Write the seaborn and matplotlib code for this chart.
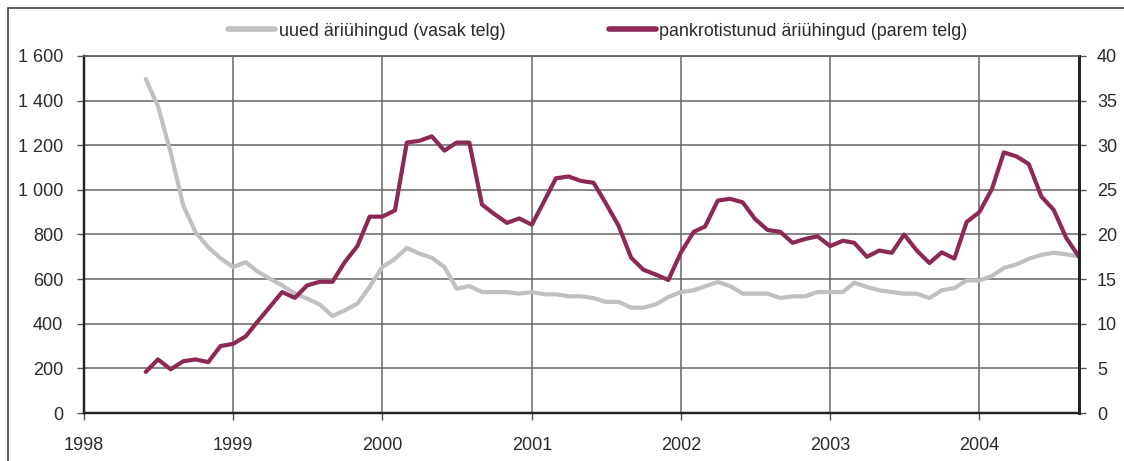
import matplotlib
matplotlib.use("Agg")
import matplotlib.pyplot as plt
from matplotlib.lines import Line2D
from matplotlib.patches import Rectangle
from matplotlib.ticker import FuncFormatter, MultipleLocator
import pandas as pd
import seaborn as sns

# ---- data ----
start_month = "1998-06-01"
new_companies = [1497, 1375, 1168, 930, 810, 743, 694, 654, 676, 635,
                 602, 572, 535, 513, 486, 435, 460, 490, 565, 654,
                 691, 740, 714, 696, 654, 557, 569, 542, 542, 542,
                 535, 542, 532, 532, 523, 523, 515, 498, 498, 472,
                 472, 487, 520, 542, 550, 568, 587, 569, 535, 535,
                 535, 515, 523, 523, 542, 542, 542, 584, 565, 550,
                 542, 535, 535, 515, 550, 560, 594, 594, 614, 650,
                 666, 691, 709, 718, 711, 702]
bankrupt = [4.6, 6.0, 4.9, 5.8, 6.0, 5.7, 7.5, 7.75, 8.6, 10.2,
            11.9, 13.55, 12.9, 14.3, 14.7, 14.7, 16.9, 18.7, 22.0, 22.0,
            22.7, 30.3, 30.5, 31.0, 29.4, 30.3, 30.3, 23.35, 22.3, 21.3,
            21.8, 21.1, 23.8, 26.3, 26.5, 26.0, 25.8, 23.5, 21.0, 17.4,
            16.05, 15.5, 14.9, 18.0, 20.3, 20.9, 23.8, 24.0, 23.6, 21.75,
            20.5, 20.3, 19.07, 19.5, 19.8, 18.7, 19.3, 19.07, 17.5, 18.2,
            17.95, 20.0, 18.2, 16.8, 18.0, 17.3, 21.4, 22.5, 25.1, 29.2,
            28.75, 27.9, 24.25, 22.76, 19.6, 17.5]
years = ["1998", "1999", "2000", "2001", "2002", "2003", "2004"]
label_new = "uued äriühingud (vasak telg)"
label_bankrupt = "pankrotistunud äriühingud (parem telg)"

dates = pd.date_range(start=start_month, periods=len(new_companies), freq="MS")
df = pd.DataFrame({"date": dates, "new": new_companies, "bankrupt": bankrupt})

GRAY = "#C0C0C2"
MAROON = "#8C2A55"
GRID = "#666666"
TXT = "#2b2b2b"

sns.set_theme(style="white")
plt.rcParams["font.family"] = ["Liberation Sans", "DejaVu Sans"]

fig = plt.figure(figsize=(11.24, 4.61), dpi=100)
ax = fig.add_axes([84 / 1124, 1 - 413 / 461, (1079 - 84) / 1124, (413 - 56) / 461])
ax2 = ax.twinx()

sns.lineplot(data=df, x="date", y="new", ax=ax, color=GRAY, lw=3.0, legend=False)
sns.lineplot(data=df, x="date", y="bankrupt", ax=ax2, color=MAROON, lw=3.0, legend=False)

ax.set_xlim(pd.Timestamp("1998-01-01"), pd.Timestamp("2004-09-01"))
ax.set_ylim(0, 1600)
ax2.set_ylim(0, 40)
ax.yaxis.set_major_locator(MultipleLocator(200))
ax2.yaxis.set_major_locator(MultipleLocator(5))
ax.yaxis.set_major_formatter(FuncFormatter(lambda v, p: f"{int(v):,}".replace(",", " ")))
ax2.yaxis.set_major_formatter(FuncFormatter(lambda v, p: f"{int(v)}"))
ax.set_xticks([pd.Timestamp(f"{y}-01-01") for y in years])
ax.set_xticklabels(years)

ax.set_xlabel("")
ax.set_ylabel("")
ax2.set_ylabel("")

ax.grid(True, color=GRID, lw=1.1)
ax2.grid(False)
ax.set_axisbelow(True)

for a in (ax, ax2):
    for s in a.spines.values():
        s.set_color("#222222")
        s.set_linewidth(1.6)
    a.spines["top"].set_color(GRID)
    a.spines["top"].set_linewidth(1.1)
ax.spines["right"].set_linewidth(2)
ax2.spines["right"].set_linewidth(2)

ax.tick_params(axis="y", left=True, length=5, width=1, color="#555555", pad=10,
               labelsize=13, labelcolor=TXT)
ax.tick_params(axis="x", bottom=True, length=5, width=1, color="#555555", pad=12,
               labelsize=13, labelcolor=TXT)
ax2.tick_params(axis="y", right=True, length=5, width=1, color="#555555", pad=8,
                labelsize=13, labelcolor=TXT)

handles = [Line2D([], [], color=GRAY, lw=4), Line2D([], [], color=MAROON, lw=4)]
fig.legend(handles, [label_new, label_bankrupt], loc="center", ncol=2,
           bbox_to_anchor=(598 / 1124, 1 - 31 / 461), frameon=False,
           fontsize=12.9, handlelength=2.6, handletextpad=0.2, columnspacing=5.8,
           labelcolor=TXT)

# outer frame
fig.patches.append(Rectangle((7.5 / 1124, -0.1), 1.2, 1 - 7.5 / 461 + 0.1,
                             transform=fig.transFigure, fill=False,
                             edgecolor="#444444", lw=1.2))

fig.savefig("out.png", dpi=100)
